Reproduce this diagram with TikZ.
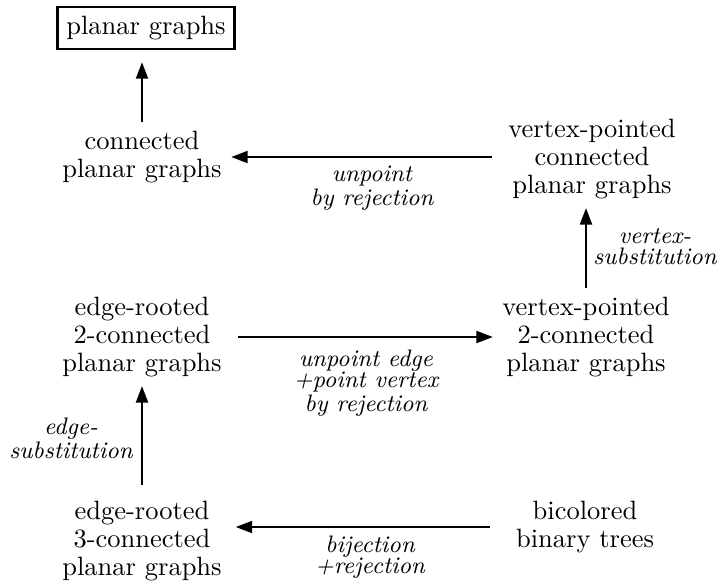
\documentclass[tikz,border=0pt]{standalone}
\usetikzlibrary{arrows.meta}

\tikzset{
  family/.style = {align = center, font = \fontsize{10}{10.4}\selectfont},
  method/.style = {align = center, font = \fontsize{9}{8}\selectfont\itshape},
  sampler/.style = {line width = 1.1pt, -{Triangle[length = 6.3pt, width = 4.4pt]}}
}

\begin{document}
\begin{tikzpicture}[x = .3774pt, y = -.3774pt]
\useasboundingbox (0, 0) rectangle (717, 581);

% classes of graphs
\node [family, draw, thick] (pg)   at (146,  28) {planar graphs};
\node [family]              (cpg)  at (142, 157) {connected\\planar graphs};
\node [family]              (vpc)  at (592, 159) {vertex-pointed\\connected\\planar graphs};
\node [family]              (er2c) at (142, 337) {edge-rooted\\2-connected\\planar graphs};
\node [family]              (vp2c) at (586, 337) {vertex-pointed\\2-connected\\planar graphs};
\node [family]              (er3c) at (142, 541) {edge-rooted\\3-connected\\planar graphs};
\node [family]              (bbt)  at (585, 527) {bicolored\\binary trees};

% operations
\node [method] (unpt)  at (372, 188) {unpoint\\by rejection};
\node [method] (vsub)  at (655, 247) {vertex-\\substitution};
\node [method] (swap)  at (366, 383) {unpoint edge\\+point vertex\\by rejection};
\node [method] (esub)  at ( 71, 438) {edge-\\substitution};
\node [method] (bij)   at (370, 557) {bijection\\+rejection};

\draw [sampler, shorten > = 4.6pt] (cpg.north) -- (cpg.north |- pg.south);
\draw [sampler, shorten < = 2.8pt] (vpc.west |- cpg.east) -- (cpg.east);
\draw [sampler] (vp2c.north) -- (vp2c.north |- vpc.south);
\draw [sampler, shorten < = 2.5pt] (er2c.east) -- (vp2c.west |- er2c.east);
\draw [sampler, shorten < = 2.6pt] (er3c.north) -- (er2c.south);
\draw [sampler, shorten < = 6.4pt, shorten > = 1.7pt] (bbt.west) -- (bbt.west -| er3c.east);
\end{tikzpicture}
\end{document}
